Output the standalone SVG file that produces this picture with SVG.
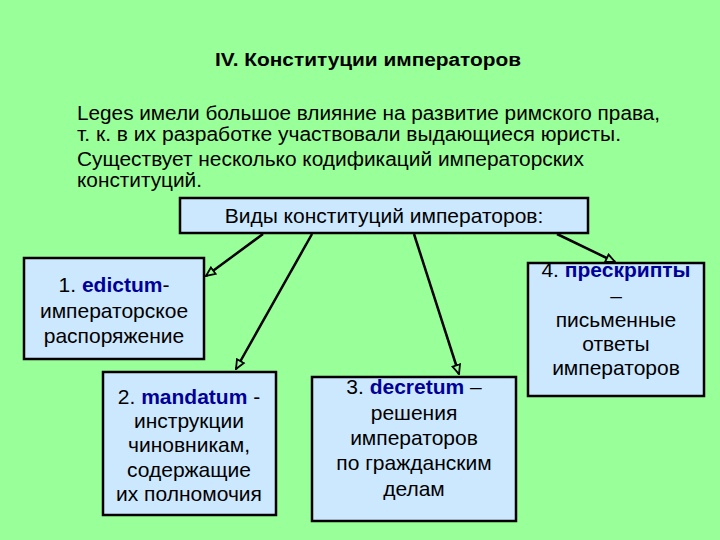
<svg xmlns="http://www.w3.org/2000/svg" width="720" height="540" viewBox="0 0 720 540">
<style>
text{font-family:"Liberation Sans",Arial,sans-serif;fill:#000}
.t{font-size:21px;text-anchor:middle}
.b{fill:#000099;font-weight:bold}
.box{fill:#CCE8FF;stroke:#000;stroke-width:2.5}
.para{font-size:20px}
.con{stroke:#000;stroke-width:2.5;fill:none;marker-end:url(#ah)}
</style>
<defs>
<marker id="ah" viewBox="0 0 10 10" refX="9" refY="5" markerWidth="4.5" markerHeight="4.5" orient="auto" markerUnits="strokeWidth">
<path d="M1,1.5 L9,5 L1,8.5 Z" fill="#99FF99" stroke="#000" stroke-width="1.6"/>
</marker>
</defs>
<rect width="720" height="540" fill="#99FF99"/>
<g id="title">
<text x="368" y="66" font-size="18" font-weight="bold" text-anchor="middle" textLength="306" lengthAdjust="spacingAndGlyphs">IV. Конституции императоров</text>
</g>
<g id="intro" class="para">
<text x="77" y="120" textLength="583" lengthAdjust="spacingAndGlyphs">Leges имели большое влияние на развитие римского права,</text>
<text x="77" y="141" textLength="544" lengthAdjust="spacingAndGlyphs">т. к. в их разработке участвовали выдающиеся юристы.</text>
<text x="77" y="166" textLength="507" lengthAdjust="spacingAndGlyphs">Существует несколько кодификаций императорских</text>
<text x="77" y="187" textLength="125" lengthAdjust="spacingAndGlyphs">конституций.</text>
</g>
<g id="connectors">
<line class="con" x1="263" y1="234" x2="206" y2="276"/>
<line class="con" x1="312" y1="234" x2="236" y2="369"/>
<line class="con" x1="414" y1="234" x2="459" y2="374"/>
<line class="con" x1="557" y1="234" x2="615" y2="262"/>
</g>
<g id="header">
<rect x="180" y="198" width="408" height="35" class="box" stroke-width="2"/>
<text class="t" x="384" y="223">Виды конституций императоров:</text>
</g>
<g id="n1">
<rect class="box" x="24" y="258" width="180" height="101"/>
<text class="t" x="114" y="292">1. <tspan class="b">edictum</tspan>-</text>
<text class="t" x="114" y="318">императорское</text>
<text class="t" x="114" y="343">распоряжение</text>
</g>
<g id="n2">
<rect class="box" x="103" y="372" width="173" height="143"/>
<text class="t" x="189" y="404">2. <tspan class="b">mandatum</tspan> -</text>
<text class="t" x="189" y="428">инструкции</text>
<text class="t" x="189" y="452">чиновникам,</text>
<text class="t" x="189" y="477">содержащие</text>
<text class="t" x="189" y="501">их полномочия</text>
</g>
<g id="n3">
<rect class="box" x="312" y="377" width="204" height="144"/>
<text class="t" x="414" y="394">3. <tspan class="b">decretum</tspan> –</text>
<text class="t" x="414" y="420">решения</text>
<text class="t" x="414" y="445">императоров</text>
<text class="t" x="414" y="470">по гражданским</text>
<text class="t" x="414" y="496">делам</text>
</g>
<g id="n4">
<rect class="box" x="528" y="263" width="176" height="133"/>
<text class="t" x="616" y="277">4. <tspan class="b">прескрипты</tspan></text>
<text class="t" x="616" y="303">–</text>
<text class="t" x="616" y="327">письменные</text>
<text class="t" x="616" y="351">ответы</text>
<text class="t" x="616" y="375">императоров</text>
</g>
</svg>
